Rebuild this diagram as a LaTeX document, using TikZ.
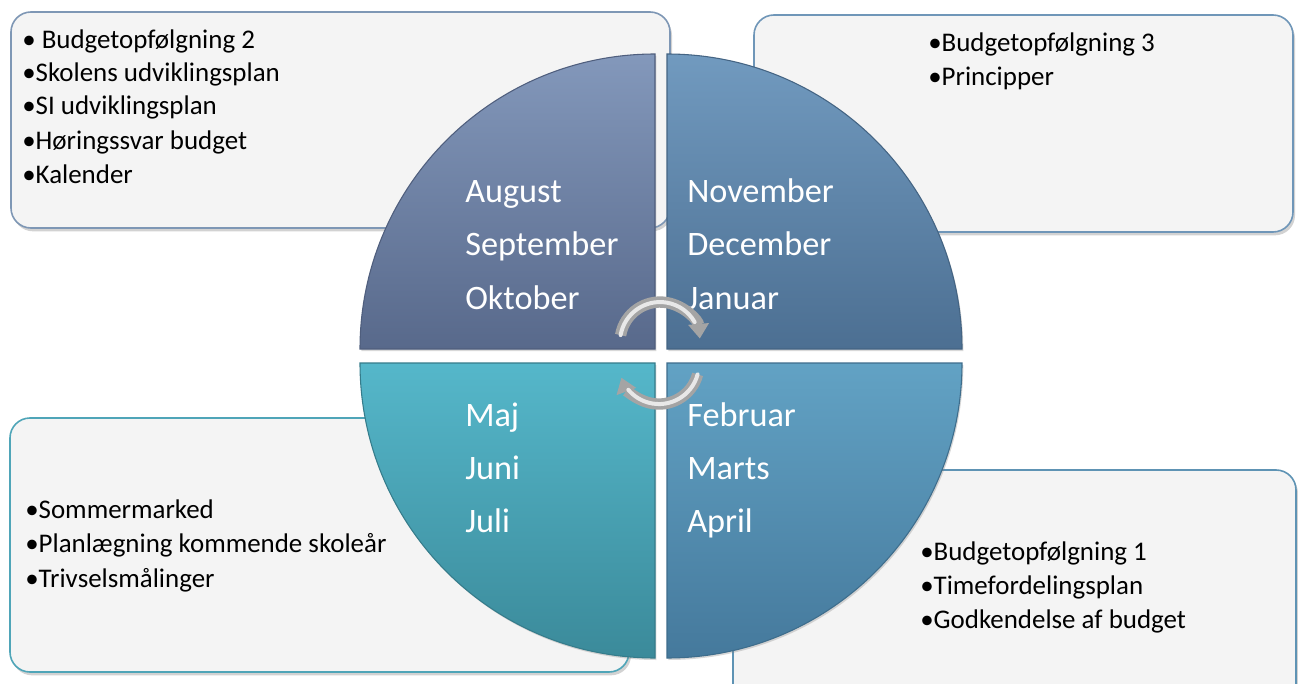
\documentclass[tikz,border=0pt]{standalone}
\usepackage{fontspec}
\setmainfont{Carlito}
\usetikzlibrary{shadows,arrows.meta}
\definecolor{boxfill}{HTML}{F4F4F4}
\definecolor{tlline}{HTML}{7E97B5}
\definecolor{trline}{HTML}{6F96B8}
\definecolor{blline}{HTML}{4FA5B8}
\definecolor{brline}{HTML}{5E93B4}
\definecolor{tltop}{HTML}{8398BB}
\definecolor{tlbot}{HTML}{58698B}
\definecolor{trtop}{HTML}{719ABF}
\definecolor{trbot}{HTML}{4C6F92}
\definecolor{bltop}{HTML}{55B7CA}
\definecolor{blbot}{HTML}{3B8A9A}
\definecolor{brtop}{HTML}{62A2C4}
\definecolor{brbot}{HTML}{45799C}
\definecolor{tubedark}{HTML}{A4A4A4}
\definecolor{tubelight}{HTML}{E8E8E8}
\begin{document}
\begin{tikzpicture}[x=0.75pt,y=-0.75pt,
  box/.style={rounded corners=15pt, fill=boxfill, line width=1.2pt,
    drop shadow={opacity=0.35, shadow xshift=1.5pt, shadow yshift=-2.5pt}},
  boxtext/.style={anchor=base west, font=\fontsize{20.2}{24}\selectfont, inner sep=0pt, text=black},
  month/.style={anchor=base west, font=\fontsize{25.7}{30}\selectfont, inner sep=0pt, text=white},
  quad/.style={line width=0.8pt, drop shadow={opacity=0.3, shadow xshift=1pt, shadow yshift=-1.5pt}},
  tube/.style={line width=8.5pt, draw=tubedark, -{Triangle[length=11pt,width=15pt]}},
  tubehi/.style={line width=3pt, draw=tubelight, line cap=round}]
\path[use as bounding box] (0,0) rectangle (1298,684);
\clip (0,0) rectangle (1298,684);
\fill[white] (0,0) rectangle (1298,684);

% boxes
\draw[box, draw=tlline] (11,12) rectangle (670,228);
\draw[box, draw=trline] (754,15) rectangle (1293,232);
\draw[box, draw=blline] (10,418) rectangle (629,672);
\draw[box, draw=brline] (733,470) rectangle (1296,720);

% quadrants
\path[quad, top color=tltop, bottom color=tlbot, draw=tlbot!90!black]
  (655,349) -- (360,349) arc[start angle=180, end angle=270, radius=295] -- cycle;
\path[quad, top color=trtop, bottom color=trbot, draw=trbot!90!black]
  (667,349) -- (667,54) arc[start angle=270, end angle=360, radius=295] -- cycle;
\path[quad, top color=bltop, bottom color=blbot, draw=blbot!90!black]
  (655,363) -- (360,363) arc[start angle=180, end angle=90, radius=295] -- cycle;
\path[quad, top color=brtop, bottom color=brbot, draw=brbot!90!black]
  (667,363) -- (962,363) arc[start angle=0, end angle=90, radius=295] -- cycle;

% months
\node[month] (m1) at (465,203) {August};
\node[month] (m2) at (465,256) {September};
\node[month] (m3) at (465,309) {Oktober};
\node[month] (m4) at (687,203) {November};
\node[month] (m5) at (687,256) {December};
\node[month] (m6) at (687,309) {Januar};
\node[month] (m7) at (465,426) {Maj};
\node[month] (m8) at (465,479) {Juni};
\node[month] (m9) at (465,532) {Juli};
\node[month] (m10) at (687,426) {Februar};
\node[month] (m11) at (687,479) {Marts};
\node[month] (m12) at (687,532) {April};

% box texts
\node[boxtext] (a1) at (22,48.5) {• Budgetopfølgning 2};
\node[boxtext] (a2) at (22,81.5) {•Skolens udviklingsplan};
\node[boxtext] (a3) at (22,114.5) {•SI udviklingsplan};
\node[boxtext] (a4) at (22,149.5) {•Høringssvar budget};
\node[boxtext] (a5) at (22,183.5) {•Kalender};
\node[boxtext] (b1) at (928,51.5) {•Budgetopfølgning 3};
\node[boxtext] (b2) at (928,85.5) {•Principper};
\node[boxtext] (c1) at (25,518.5) {•Sommermarked};
\node[boxtext] (c2) at (25,552.5) {•Planlægning kommende skoleår};
\node[boxtext] (c3) at (25,587) {•Trivselsmålinger};
\node[boxtext] (d1) at (920,560.5) {•Budgetopfølgning 1};
\node[boxtext] (d2) at (920,594.5) {•Timefordelingsplan};
\node[boxtext] (d3) at (920,628.5) {•Godkendelse af budget};

% circular arrows
\coordinate (ta) at (620.6,335.1);
\coordinate (ba) at (697.6,374.4);
\draw[tube] (ta) arc[start angle=190, end angle=355, radius=40];
\draw[tubehi] (ta) arc[start angle=190, end angle=330, radius=40];
\draw[tube] (ba) arc[start angle=15, end angle=160, radius=40];
\draw[tubehi] (ba) arc[start angle=15, end angle=140, radius=40];
\end{tikzpicture}
\end{document}
